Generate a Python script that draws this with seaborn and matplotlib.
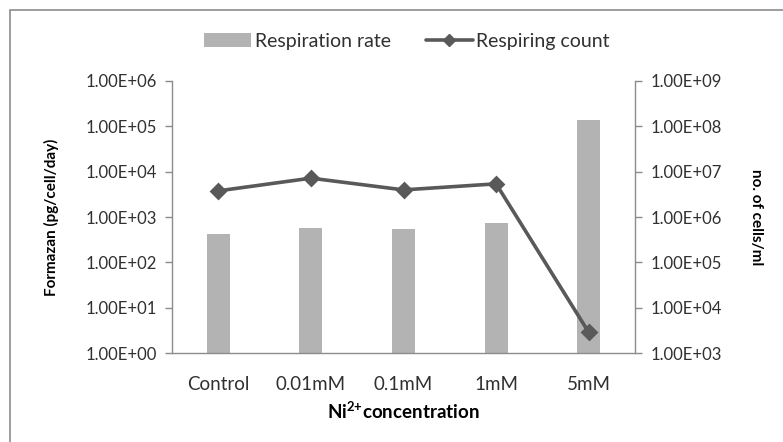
import matplotlib
matplotlib.use("Agg")
import matplotlib.pyplot as plt
import matplotlib.ticker as mticker
from matplotlib.patches import Rectangle, Patch
from matplotlib.lines import Line2D
import seaborn as sns
import pandas as pd

categories = ["Control", "0.01mM", "0.1mM", "1mM", "5mM"]
respiration_rate = [430, 575, 547, 741, 1.38e5]
respiring_count = [3.76e6, 7.16e6, 3.95e6, 5.37e6, 2.9e3]
left_ticks = [1e0, 1e1, 1e2, 1e3, 1e4, 1e5, 1e6]
right_ticks = [1e3, 1e4, 1e5, 1e6, 1e7, 1e8, 1e9]

sns.set_theme(style="white")
plt.rcParams["font.family"] = ["Lato", "DejaVu Sans"]
plt.rcParams["mathtext.fontset"] = "custom"
plt.rcParams["mathtext.rm"] = "Lato"
plt.rcParams["mathtext.bf"] = "Lato:bold"

df = pd.DataFrame({"cat": categories, "rate": respiration_rate, "count": respiring_count})

bar_color = "#B3B3B3"
line_color = "#595959"
spine_color = "#8C8C8C"
text_color = "#303030"

fig = plt.figure(figsize=(7.83, 4.42), dpi=100)
fig.patch.set_facecolor("white")
fig.add_artist(Rectangle((10 / 783, -0.05), 1.2, 1.05 - 10 / 442, transform=fig.transFigure,
                         fill=False, edgecolor="#8C8C8C", linewidth=1.2))

ax = fig.add_axes([172 / 783, 1 - 353.3 / 442, (635 - 172) / 783, (353.3 - 80.7) / 442])
sns.barplot(data=df, x="cat", y="rate", ax=ax, color=bar_color, width=0.25,
            saturation=1, edgecolor="none", order=categories)
ax.set_yscale("log")
ax.set_ylim(1, 1e6)
ax.set_yticks(left_ticks)
ax.yaxis.set_major_formatter(mticker.FuncFormatter(lambda v, _: f"{v:.2E}"))
ax.yaxis.set_minor_locator(mticker.NullLocator())
ax.set_xlim(-0.5, 4.5)

ax2 = ax.twinx()
sns.pointplot(data=df, x="cat", y="count", ax=ax2, color=line_color, markers="D",
              markersize=7, linewidth=2.6, order=categories)
ax2.set_yscale("log")
ax2.set_ylim(1e3, 1e9)
ax2.set_yticks(right_ticks)
ax2.yaxis.set_major_formatter(mticker.FuncFormatter(lambda v, _: f"{v:.2E}"))
ax2.yaxis.set_minor_locator(mticker.NullLocator())
ax2.set_xlim(-0.5, 4.5)

for a in (ax, ax2):
    for s in a.spines.values():
        s.set_visible(False)
    a.set_facecolor("none")
    a.grid(False)
ax.spines["left"].set_visible(True)
ax.spines["bottom"].set_visible(True)
ax2.spines["right"].set_visible(True)
for s in (ax.spines["left"], ax.spines["bottom"], ax2.spines["right"]):
    s.set_color(spine_color)
    s.set_linewidth(1.0)

ax.tick_params(axis="y", left=True, length=5, width=1, color=spine_color,
               labelsize=12, labelcolor=text_color, pad=6)
ax.tick_params(axis="x", bottom=False, labelsize=13.5, labelcolor=text_color, pad=10)
ax2.tick_params(axis="y", right=True, length=5, width=1, color=spine_color,
                labelsize=12, labelcolor=text_color, pad=6)

ax.set_xlabel(r"Ni$\mathbf{^{2{+}}}$concentration", fontsize=13.5, fontweight="bold",
              color="black", labelpad=6)
ax.set_ylabel("Formazan (pg/cell/day)", fontsize=11, fontweight="bold", color="black",
              labelpad=19)
ax2.set_ylabel("no. of cells/ml", fontsize=11, fontweight="bold", color="black",
               rotation=270, labelpad=30)

handles = [Patch(facecolor=bar_color, edgecolor="none"),
           Line2D([0], [0], color=line_color, linewidth=2.6, marker="D", markersize=6)]
fig.legend(handles, ["Respiration rate", "Respiring count"], loc="center",
           bbox_to_anchor=(0.52, 1 - 41 / 442), ncol=2, frameon=False, fontsize=14,
           handlelength=2.4, handleheight=0.7, handletextpad=0.2, columnspacing=1.8,
           labelcolor=text_color)

fig.savefig("out.png", dpi=100, facecolor="white")
